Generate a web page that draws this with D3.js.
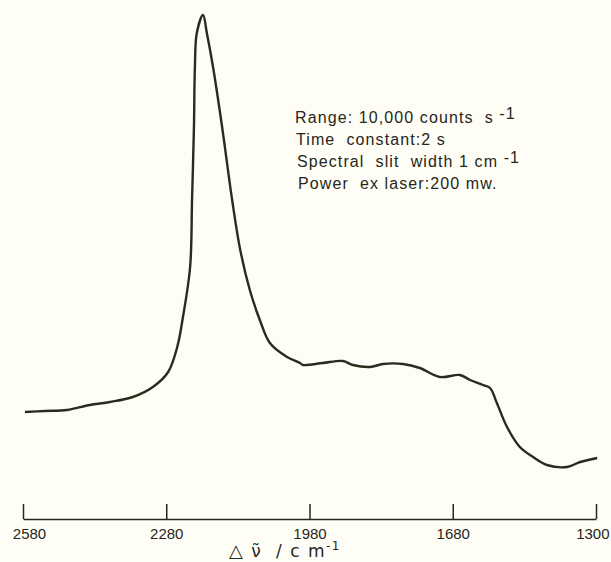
<!DOCTYPE html>
<html>
<head>
<meta charset="utf-8">
<script src="https://cdn.jsdelivr.net/npm/d3@7"></script>
<style>
  html, body { margin: 0; padding: 0; background: #fffef6; }
  svg { display: block; }
  text { fill: #262620; }
</style>
</head>
<body>
<div id="chart"></div>
<script>
// Raman shift (cm-1)
let shift = [2576, 2534, 2488, 2440, 2398, 2350, 2308, 2276, 2257, 2245, 2230, 2226, 2222,
  2220, 2216, 2203, 2195, 2182, 2163, 2142, 2125, 2105, 2084, 2063, 2027, 2000, 1994, 1952, 1910,
  1889, 1853, 1826, 1784, 1749, 1707, 1661, 1634, 1600, 1581, 1563, 1536, 1502, 1467, 1430, 1377,
  1342, 1297];
// intensity, % of full scale (10,000 counts s-1)
let intensity = [17.6, 17.8, 18.0, 19.0, 19.6, 20.6, 22.6, 25.6, 30.6, 36.6, 46.6, 60, 74.6,
  86.6, 93.4, 97, 93.4, 86.6, 74.6, 60, 50, 42, 36, 31.4, 28.6, 27.4, 27, 27.4, 27.8,
  27, 26.6, 27.2, 27.2, 26.4, 24.6, 25, 24, 23, 22.4, 19.4, 14.6, 10.6, 8.6, 7, 6.6,
  7.6, 8.4];
let tickValues = [2580, 2280, 1980, 1680, 1300];
let notes = [
  ["Range: 10,000 counts  s ", "-1"],
  ["Time  constant:2 s", ""],
  ["Spectral  slit  width 1 cm ", "-1"],
  ["Power  ex laser:200 mw.", ""]
];

let width = 611, height = 562;
let left = 23, right = 596, axisY = 519;

let svg = d3.select("#chart").append("svg")
  .attr("width", width)
  .attr("height", height);

// tick marks are evenly spaced on the chart even though the last gap is 380 cm-1
let x = d3.scaleLinear()
  .domain(tickValues)
  .range(tickValues.map((d, i) => left + i * (right - left) / (tickValues.length - 1)));

let y = d3.scaleLinear().domain([0, 100]).range([500, 0]);

let data = shift.map((d, i) => ({ x: d, y: intensity[i] }));

let line = d3.line()
  .x(d => x(d.x))
  .y(d => y(d.y))
  .curve(d3.curveCatmullRom.alpha(0.5));

svg.append("path")
  .datum(data)
  .attr("fill", "none")
  .attr("stroke", "#2b2b1c")
  .attr("stroke-width", 2.4)
  .attr("stroke-linejoin", "round")
  .attr("d", line);

let axis = svg.append("g")
  .attr("transform", `translate(0,${axisY})`)
  .call(d3.axisBottom(x)
    .tickValues(tickValues)
    .tickFormat(d3.format("d"))
    .tickSizeInner(-15)
    .tickSizeOuter(0)
    .tickPadding(9));

axis.select(".domain").attr("stroke", "#262620").attr("stroke-width", 1.5);
axis.selectAll(".tick line").attr("stroke", "#262620").attr("stroke-width", 1.5);
axis.selectAll(".tick text")
  .attr("font-family", "Liberation Sans, Arial, sans-serif")
  .attr("font-size", 15)
  .attr("fill", "#262620");
axis.selectAll(".tick text")
  .filter(d => d === tickValues[0])
  .attr("dx", 6);
axis.selectAll(".tick text")
  .filter(d => d === tickValues[tickValues.length - 1])
  .attr("text-anchor", "end")
  .attr("dx", 13);

let title = svg.append("text")
  .attr("x", 229)
  .attr("y", 557)
  .attr("font-family", "DejaVu Sans, sans-serif")
  .attr("font-size", 17)
  .attr("letter-spacing", 1.5)
  .attr("xml:space", "preserve");
title.append("tspan").attr("font-size", 18).text("\u25B3");
title.append("tspan").text(" \u03BD\u0303  / c m");
title.append("tspan").attr("dy", -7).attr("font-size", 12).text("-1");

let note = svg.append("g")
  .attr("font-family", "Liberation Sans, Arial, sans-serif")
  .attr("font-size", 16)
  .attr("letter-spacing", 1.1);

notes.forEach((n, i) => {
  let t = note.append("text")
    .attr("x", 295 + i)
    .attr("y", 123 + i * 22)
    .attr("xml:space", "preserve");
  t.append("tspan").text(n[0]);
  if (n[1]) t.append("tspan").attr("dy", -4).text(n[1]);
});
</script>
</body>
</html>
